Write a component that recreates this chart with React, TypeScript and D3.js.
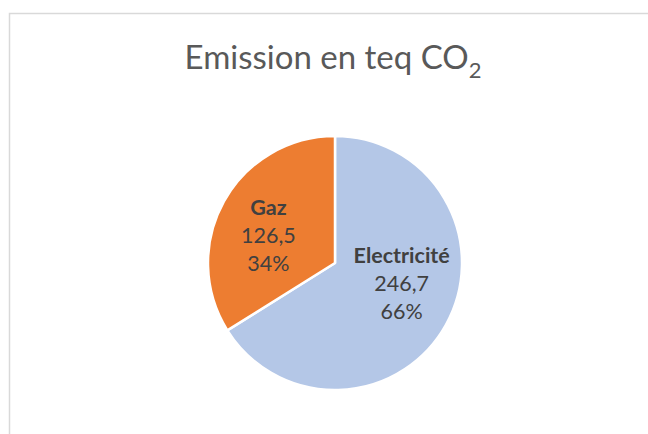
import { useEffect, useRef } from 'react';
import * as d3 from 'd3';

const labels = ['Electricité', 'Gaz'];
const values = [246.7, 126.5];
const colors = ['#B4C7E7', '#ED7D31'];

const App = () => {
    const svgRef = useRef<SVGSVGElement>(null);

    useEffect(() => {
        const w = 648;
        const h = 434;
        const cx = 335;
        const cy = 263;
        const r = 127;

        const svg = d3.select(svgRef.current);
        svg.selectAll('*').remove();
        svg.attr('width', w).attr('height', h);

        // chart frame, cut off at the right and bottom
        svg.append('rect')
            .attr('x', 9.5)
            .attr('y', 13.5)
            .attr('width', w)
            .attr('height', h)
            .attr('fill', '#fff')
            .attr('stroke', '#d9d9d9')
            .attr('stroke-width', 1.5);

        // title
        const title = svg.append('text')
            .attr('x', cx - 2)
            .attr('y', 69)
            .attr('text-anchor', 'middle')
            .style('font-family', 'Lato, sans-serif')
            .style('font-size', '33px')
            .attr('fill', '#595959');
        title.append('tspan').text('Emission en teq CO');
        title.append('tspan').attr('dy', 9).style('font-size', '22px').text('2');

        const data = labels.map((l, i) => ({ label: l, value: values[i], color: colors[i] }));
        const total = d3.sum(values);
        const pie = d3.pie<any>().sort(null).value(d => d.value);
        const arcs = pie(data);
        const arc = d3.arc<any>().innerRadius(0).outerRadius(r);
        const labelArc = d3.arc<any>().innerRadius(r * 0.6).outerRadius(r * 0.6);

        const g = svg.append('g').attr('transform', `translate(${cx},${cy})`);
        g.selectAll('path')
            .data(arcs)
            .enter().append('path')
            .attr('d', arc)
            .attr('fill', d => d.data.color)
            .attr('stroke', '#fff')
            .attr('stroke-width', 2.5)
            .attr('stroke-linejoin', 'round');

        // data labels: name, value, percent
        const fmt = (v: number) => d3.format('.1f')(v).replace('.', ',');
        const lbl = g.selectAll('g.lbl')
            .data(arcs)
            .enter().append('g')
            .attr('class', 'lbl')
            .attr('transform', d => {
                const [x, y] = labelArc.centroid(d);
                return `translate(${x},${y * 0.65})`;
            });
        lbl.each(function (d) {
            const t = d3.select(this).append('text')
                .attr('text-anchor', 'middle')
                .style('font-family', 'Lato, sans-serif')
                .style('font-size', '21.5px')
                .attr('fill', '#404040');
            t.append('tspan').attr('x', 0).attr('y', -24).style('font-weight', 'bold').text(d.data.label);
            t.append('tspan').attr('x', 0).attr('y', 4).text(fmt(d.data.value));
            t.append('tspan').attr('x', 0).attr('y', 32).text(Math.round(d.data.value / total * 100) + '%');
        });
    }, []);

    return (
        <svg ref={svgRef} style={{ position: 'absolute', left: 0, top: 0 }}></svg>
    );
};

export default App;
